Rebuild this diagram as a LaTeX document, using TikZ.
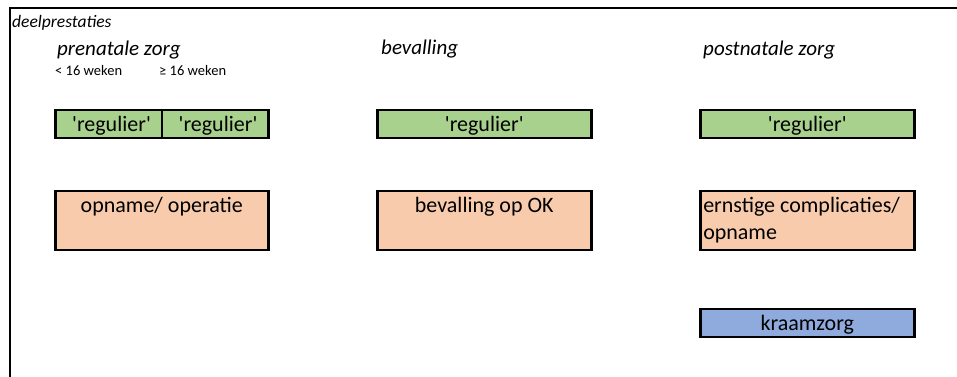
\documentclass[tikz,border=0pt]{standalone}
\usepackage{fontspec}
\setmainfont{Carlito}[Ligatures=TeXOff]
\definecolor{cellgreen}{HTML}{A9D18E}
\definecolor{cellorange}{HTML}{F8CBAD}
\definecolor{cellblue}{HTML}{8FAADC}
\tikzset{
  frameline/.style={line width=2pt, line cap=rect},
  cellbase/.style={draw, line width=2.5pt, inner sep=0pt, anchor=north west,
    font=\fontsize{22}{27}\selectfont},
  cell/.style={cellbase, text height=21.5pt},
  shortcell/.style={cell, minimum height=28pt, text depth=6.5pt},
  tallcell/.style={cell, minimum height=59pt, text depth=37.5pt},
  heading/.style={anchor=base west, inner sep=0pt, font=\fontsize{21}{25}\selectfont\itshape},
  note/.style={anchor=base west, inner sep=0pt, font=\fontsize{14.5}{17}\selectfont},
}
\begin{document}
\begin{tikzpicture}[x=1pt, y=-1pt]
\useasboundingbox (0,0) rectangle (957,376);

% frame: top and left rules
\coordinate (fTL) at (9.5,8);
\coordinate (fTR) at (957,8);
\coordinate (fBL) at (9.5,376);
\draw[frameline] (fTR) -- (fTL) -- (fBL);

% titles
\node[anchor=base west, inner sep=0pt, font=\fontsize{17.5}{21}\selectfont\itshape] (title) at (12,27.5) {deelprestaties};
\node[heading] (hpre) at (57,55) {prenatale zorg};
\node[heading] (hbev) at (381,54) {bevalling};
\node[heading] (hpost) at (703,55) {postnatale zorg};
\node[note] (wk1) at (55,75) {< 16 weken};
\node[note] (wk2) at (159,75) {≥ 16 weken};

% prenatale zorg
\node[shortcell, fill=cellgreen, minimum width=106.5pt] (reg1) at (54,108.5) {\hspace*{6pt}'regulier'};
\node[shortcell, fill=cellgreen, minimum width=106.5pt] (reg2) at (160.5,108.5) {\hspace*{6pt}'regulier'};
\node[tallcell, fill=cellorange, minimum width=213pt] (opn) at (54,189.5) {opname/ operatie};

% bevalling
\node[shortcell, fill=cellgreen, minimum width=214pt] (reg3) at (376,108.5) {'regulier'};
\node[tallcell, fill=cellorange, minimum width=214pt] (ok) at (376,189.5) {bevalling op OK};

% postnatale zorg
\node[shortcell, fill=cellgreen, minimum width=214pt] (reg4) at (699,108.5) {'regulier'};
\node[cellbase, fill=cellorange] (cmp) at (699,189.5)
  {\parbox[t][59pt][t]{214pt}{\raggedright\leftskip=3pt\rule{0pt}{21.5pt}ernstige complicaties/\\opname}};
\node[shortcell, fill=cellblue, minimum width=214pt] (kraam) at (699,307.5) {kraamzorg};
\end{tikzpicture}
\end{document}
